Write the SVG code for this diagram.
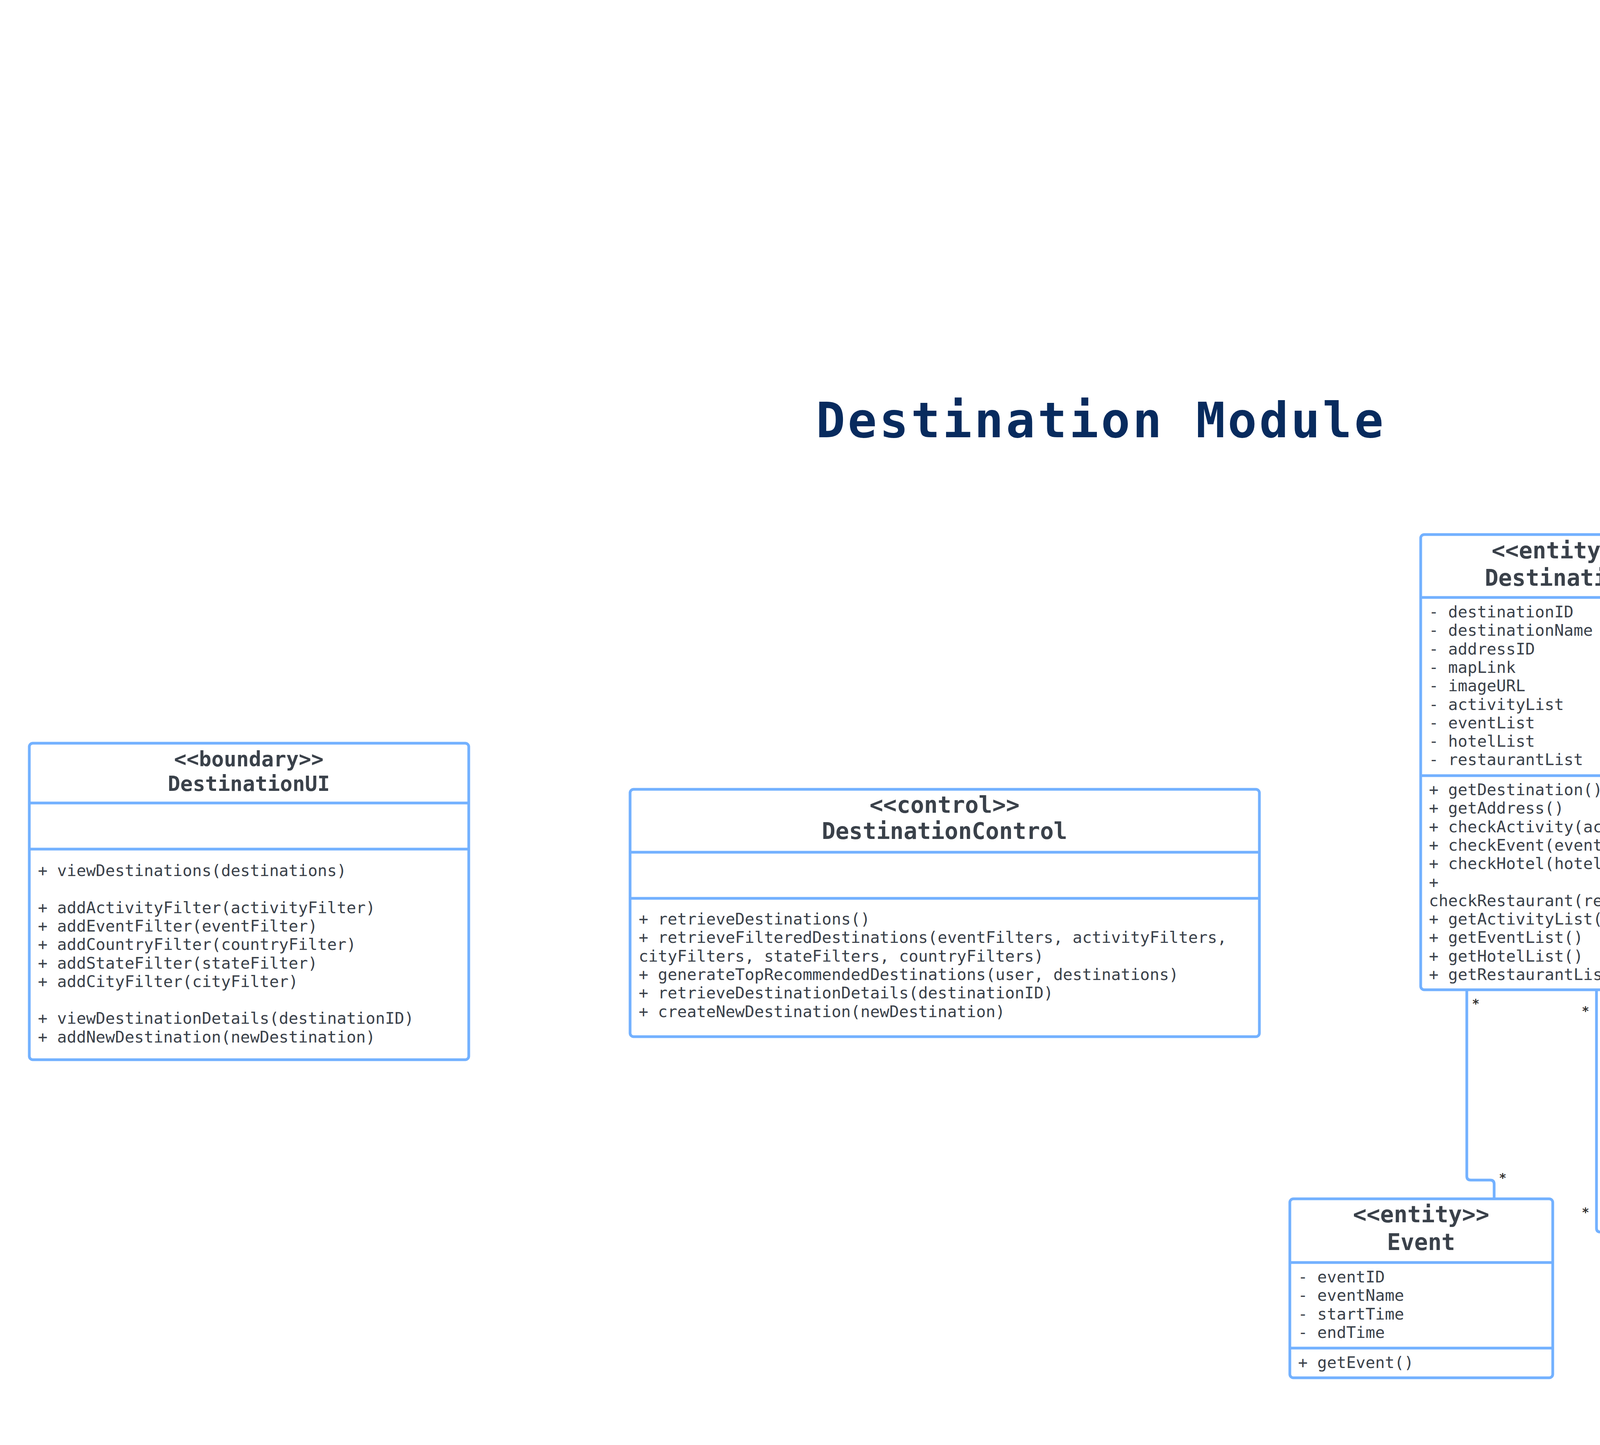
<svg xmlns="http://www.w3.org/2000/svg" width="7050" height="3698" viewBox="0 0 7050 3698">
<style>
.bg{fill:#ffffff}
.box{fill:#ffffff;stroke:#73b1ff;stroke-width:7}
.sep{stroke:#73b1ff;stroke-width:7}
.hd{font-family:"DejaVu Sans Mono","Liberation Mono",monospace;font-weight:bold;font-size:58px;fill:#3a414a;text-anchor:middle}
.hd2{font-family:"DejaVu Sans Mono","Liberation Mono",monospace;font-weight:bold;font-size:53px;fill:#3a414a;text-anchor:middle}
.tx{font-family:"DejaVu Sans Mono","Liberation Mono",monospace;font-size:41px;fill:#3a414a}
.lbl{font-family:"DejaVu Sans Mono","Liberation Mono",monospace;font-weight:bold;font-size:32px;fill:#333333;text-anchor:middle}
.thin{fill:none;stroke:#222222;stroke-width:2}
.blue{fill:none;stroke:#73b1ff;stroke-width:7}
.title{font-family:"DejaVu Sans Mono","Liberation Mono",monospace;font-weight:bold;font-size:124px;fill:#082b5e;letter-spacing:6.4px}
</style>
<rect class="bg" x="0" y="0" width="7050" height="3698"/>

<text class="title" x="2089" y="1119">Destination Module</text>

<g id="connectors">
  <path class="thin" d="M6299 256 H5324 V1361"/>
  <path class="thin" d="M6299 931 H5483 V1361"/>
  <path class="thin" d="M6637 438 V706"/>
  <path class="thin" d="M6637 1159 V1378"/>
  <path class="thin" d="M5662 1491 H6301"/>
  <path class="blue" d="M4350 1460 H4988"/>
  <path class="blue" d="M4350 2393 H4654 Q4664 2393 4664 2383 Q4664 2373 4674 2373 H4988"/>
  <path class="blue" d="M3755 2533 V3010 Q3755 3020 3765 3020 H3815 Q3825 3020 3825 3030 V3068"/>
  <path class="blue" d="M4087 2533 V3143 Q4087 3153 4097 3153 H4164"/>
  <path class="blue" d="M4280 2533 V2791 Q4280 2801 4290 2801 H5182 Q5192 2801 5192 2811 V3068"/>
  <text class="lbl" x="6187" y="237">1</text>
  <text class="lbl" x="5302" y="1280">*</text>
  <text class="lbl" x="6241" y="911">1</text>
  <text class="lbl" x="5503" y="1280">*</text>
  <text class="lbl" x="6662" y="488">1</text>
  <text class="lbl" x="6658" y="677">*</text>
  <text class="lbl" x="6659" y="1217">1</text>
  <text class="lbl" x="6659" y="1351">*</text>
  <text class="lbl" x="5717" y="1530">*</text>
  <text class="lbl" x="6209" y="1526">1</text>
  <text class="lbl" x="4408" y="1443">1</text>
  <text class="lbl" x="4892" y="1443">1</text>
  <text class="lbl" x="4424" y="2379">*</text>
  <text class="lbl" x="4911" y="2358">*</text>
  <text class="lbl" x="3778" y="2579">*</text>
  <text class="lbl" x="3847" y="3025">*</text>
  <text class="lbl" x="4059" y="2598">*</text>
  <text class="lbl" x="4059" y="3113">*</text>
  <text class="lbl" x="4303" y="2589">*</text>
  <text class="lbl" x="5217" y="3009">*</text>
</g>

<g id="country">
  <rect class="box" x="6299" y="77" width="676" height="361" rx="9"/>
  <line class="sep" x1="6299" y1="237" x2="6975" y2="237"/>
  <line class="sep" x1="6299" y1="362" x2="6975" y2="362"/>
  <text class="hd" x="6637" y="137">&lt;&lt;entity&gt;&gt;</text>
  <text class="hd" x="6637" y="208">Country</text>
  <text class="tx" x="6320" y="289">- countryID</text>
  <text class="tx" x="6320" y="335">- countryName</text>
  <text class="tx" x="6320" y="415">+ getCountry()</text>
</g>

<g id="state">
  <rect class="box" x="6299" y="706" width="676" height="453" rx="9"/>
  <line class="sep" x1="6299" y1="866" x2="6975" y2="866"/>
  <line class="sep" x1="6299" y1="1085" x2="6975" y2="1085"/>
  <text class="hd" x="6637" y="766">&lt;&lt;entity&gt;&gt;</text>
  <text class="hd" x="6637" y="837">State</text>
  <text class="tx" x="6320" y="917">- stateID</text>
  <text class="tx" x="6320" y="964.3">- stateName</text>
  <text class="tx" x="6320" y="1011.6">- countryID</text>
  <text class="tx" x="6320" y="1058.9">- transportationCost</text>
  <text class="tx" x="6320" y="1136">+ getState()</text>
</g>

<g id="city">
  <rect class="box" x="6301" y="1378" width="672" height="410" rx="9"/>
  <line class="sep" x1="6301" y1="1540" x2="6973" y2="1540"/>
  <line class="sep" x1="6301" y1="1712" x2="6973" y2="1712"/>
  <text class="hd" x="6637" y="1438">&lt;&lt;entity&gt;&gt;</text>
  <text class="hd" x="6637" y="1509">City</text>
  <text class="tx" x="6322" y="1591">- cityID</text>
  <text class="tx" x="6322" y="1638.3">- cityName</text>
  <text class="tx" x="6322" y="1685.6">- stateID</text>
  <text class="tx" x="6322" y="1763">+ getCity()</text>
</g>

<g id="address">
  <rect class="box" x="4988" y="1361" width="674" height="693" rx="9"/>
  <line class="sep" x1="4988" y1="1522" x2="5662" y2="1522"/>
  <line class="sep" x1="4988" y1="1788" x2="5662" y2="1788"/>
  <text class="hd" x="5325" y="1421">&lt;&lt;entity&gt;&gt;</text>
  <text class="hd" x="5325" y="1492">Address</text>
  <text class="tx" x="5009" y="1573">- addressID</text>
  <text class="tx" x="5009" y="1620.3">- addressDetails</text>
  <text class="tx" x="5009" y="1667.6">- countryID</text>
  <text class="tx" x="5009" y="1714.9">- stateID</text>
  <text class="tx" x="5009" y="1762.2">- cityID</text>
  <text class="tx" x="5009" y="1839">+ getAddress()</text>
  <text class="tx" x="5009" y="1886.3">+</text>
  <text class="tx" x="5009" y="1933.6">checkCountry(countryName)</text>
  <text class="tx" x="5009" y="1980.9">+ checkState(stateName)</text>
  <text class="tx" x="5009" y="2028.2">+ checkCity(cityName)</text>
</g>

<g id="activity">
  <rect class="box" x="4988" y="2230" width="674" height="409" rx="9"/>
  <line class="sep" x1="4988" y1="2391" x2="5662" y2="2391"/>
  <line class="sep" x1="4988" y1="2563" x2="5662" y2="2563"/>
  <text class="hd" x="5325" y="2290">&lt;&lt;entity&gt;&gt;</text>
  <text class="hd" x="5325" y="2361">Activity</text>
  <text class="tx" x="5009" y="2442">- activityID</text>
  <text class="tx" x="5009" y="2489.3">- activityName</text>
  <text class="tx" x="5009" y="2536.6">- description</text>
  <text class="tx" x="5009" y="2614">+ getActivity()</text>
</g>

<g id="destination">
  <rect class="box" x="3637" y="1368" width="713" height="1165" rx="9"/>
  <line class="sep" x1="3637" y1="1529" x2="4350" y2="1529"/>
  <line class="sep" x1="3637" y1="1985" x2="4350" y2="1985"/>
  <text class="hd" x="3993" y="1429">&lt;&lt;entity&gt;&gt;</text>
  <text class="hd" x="3993" y="1499">Destination</text>
  <text class="tx" x="3658" y="1580">- destinationID</text>
  <text class="tx" x="3658" y="1627.3">- destinationName</text>
  <text class="tx" x="3658" y="1674.6">- addressID</text>
  <text class="tx" x="3658" y="1721.9">- mapLink</text>
  <text class="tx" x="3658" y="1769.2">- imageURL</text>
  <text class="tx" x="3658" y="1816.5">- activityList</text>
  <text class="tx" x="3658" y="1863.8">- eventList</text>
  <text class="tx" x="3658" y="1911.1">- hotelList</text>
  <text class="tx" x="3658" y="1958.4">- restaurantList</text>
  <text class="tx" x="3658" y="2035">+ getDestination()</text>
  <text class="tx" x="3658" y="2082.3">+ getAddress()</text>
  <text class="tx" x="3658" y="2129.6">+ checkActivity(activity)</text>
  <text class="tx" x="3658" y="2176.9">+ checkEvent(event)</text>
  <text class="tx" x="3658" y="2224.2">+ checkHotel(hotel)</text>
  <text class="tx" x="3658" y="2271.5">+</text>
  <text class="tx" x="3658" y="2318.8">checkRestaurant(restaurant)</text>
  <text class="tx" x="3658" y="2366.1">+ getActivityList()</text>
  <text class="tx" x="3658" y="2413.4">+ getEventList()</text>
  <text class="tx" x="3658" y="2460.7">+ getHotelList()</text>
  <text class="tx" x="3658" y="2508">+ getRestaurantList()</text>
</g>

<g id="event">
  <rect class="box" x="3302" y="3068" width="673" height="458" rx="9"/>
  <line class="sep" x1="3302" y1="3231" x2="3975" y2="3231"/>
  <line class="sep" x1="3302" y1="3450" x2="3975" y2="3450"/>
  <text class="hd" x="3638" y="3128">&lt;&lt;entity&gt;&gt;</text>
  <text class="hd" x="3638" y="3199">Event</text>
  <text class="tx" x="3323" y="3282">- eventID</text>
  <text class="tx" x="3323" y="3329.3">- eventName</text>
  <text class="tx" x="3323" y="3376.6">- startTime</text>
  <text class="tx" x="3323" y="3423.9">- endTime</text>
  <text class="tx" x="3323" y="3501">+ getEvent()</text>
</g>

<g id="restaurant">
  <rect class="box" x="4164" y="3066" width="672" height="553" rx="9"/>
  <line class="sep" x1="4164" y1="3227" x2="4836" y2="3227"/>
  <line class="sep" x1="4164" y1="3541" x2="4836" y2="3541"/>
  <text class="hd" x="4500" y="3126">&lt;&lt;entity&gt;&gt;</text>
  <text class="hd" x="4500" y="3197">Restaurant</text>
  <text class="tx" x="4185" y="3278">- restaurantID</text>
  <text class="tx" x="4185" y="3325.3">- restaurantName</text>
  <text class="tx" x="4185" y="3372.6">- restaurantSiteURL</text>
  <text class="tx" x="4185" y="3419.9">- restaurantImage</text>
  <text class="tx" x="4185" y="3467.2">- addressID</text>
  <text class="tx" x="4185" y="3514.5">- description</text>
  <text class="tx" x="4185" y="3592">+ getAddressID()</text>
</g>

<g id="hotel">
  <rect class="box" x="4989" y="3068" width="672" height="553" rx="9"/>
  <line class="sep" x1="4989" y1="3231" x2="5661" y2="3231"/>
  <line class="sep" x1="4989" y1="3544" x2="5661" y2="3544"/>
  <text class="hd" x="5325" y="3128">&lt;&lt;entity&gt;&gt;</text>
  <text class="hd" x="5325" y="3199">Hotel</text>
  <text class="tx" x="5010" y="3282">- hotelID</text>
  <text class="tx" x="5010" y="3329.3">- hotelName</text>
  <text class="tx" x="5010" y="3376.6">- hotelSiteURL</text>
  <text class="tx" x="5010" y="3423.9">- hotelImage</text>
  <text class="tx" x="5010" y="3471.2">- addressID</text>
  <text class="tx" x="5010" y="3518.5">- description</text>
  <text class="tx" x="5010" y="3596">+ getAddressID()</text>
</g>

<g id="destinationUI">
  <rect class="box" x="75" y="1902" width="1125" height="810" rx="9"/>
  <line class="sep" x1="75" y1="2055" x2="1200" y2="2055"/>
  <line class="sep" x1="75" y1="2173" x2="1200" y2="2173"/>
  <text class="hd2" x="637" y="1961">&lt;&lt;boundary&gt;&gt;</text>
  <text class="hd2" x="637" y="2024">DestinationUI</text>
  <text class="tx" x="97" y="2242">+ viewDestinations(destinations)</text>
  <text class="tx" x="97" y="2336.6">+ addActivityFilter(activityFilter)</text>
  <text class="tx" x="97" y="2383.9">+ addEventFilter(eventFilter)</text>
  <text class="tx" x="97" y="2431.2">+ addCountryFilter(countryFilter)</text>
  <text class="tx" x="97" y="2478.5">+ addStateFilter(stateFilter)</text>
  <text class="tx" x="97" y="2525.8">+ addCityFilter(cityFilter)</text>
  <text class="tx" x="97" y="2620.4">+ viewDestinationDetails(destinationID)</text>
  <text class="tx" x="97" y="2667.7">+ addNewDestination(newDestination)</text>
</g>

<g id="destinationControl">
  <rect class="box" x="1613" y="2020" width="1611" height="633" rx="9"/>
  <line class="sep" x1="1613" y1="2181" x2="3224" y2="2181"/>
  <line class="sep" x1="1613" y1="2299" x2="3224" y2="2299"/>
  <text class="hd" x="2418" y="2080">&lt;&lt;control&gt;&gt;</text>
  <text class="hd" x="2418" y="2147">DestinationControl</text>
  <text class="tx" x="1635" y="2366">+ retrieveDestinations()</text>
  <text class="tx" x="1635" y="2413.3">+ retrieveFilteredDestinations(eventFilters, activityFilters,</text>
  <text class="tx" x="1635" y="2460.6">cityFilters, stateFilters, countryFilters)</text>
  <text class="tx" x="1635" y="2507.9">+ generateTopRecommendedDestinations(user, destinations)</text>
  <text class="tx" x="1635" y="2555.2">+ retrieveDestinationDetails(destinationID)</text>
  <text class="tx" x="1635" y="2602.5">+ createNewDestination(newDestination)</text>
</g>
</svg>
